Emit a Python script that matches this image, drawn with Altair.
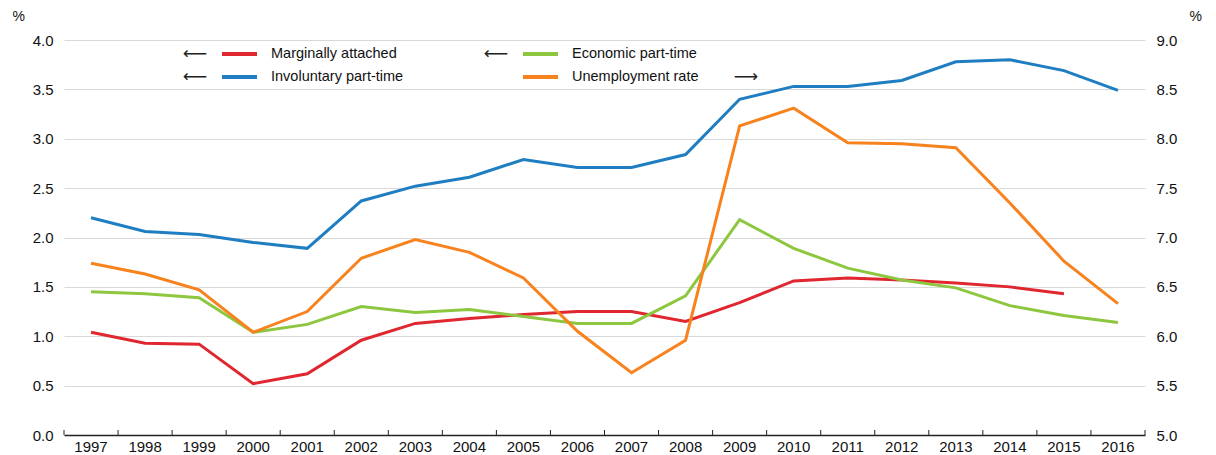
import altair as alt
import pandas as pd

# ---------------- data ----------------
years = [str(y) for y in range(1997, 2017)]
marginally_attached = [1.04, 0.93, 0.92, 0.52, 0.62, 0.96, 1.13, 1.18, 1.22, 1.25,
                       1.25, 1.15, 1.34, 1.56, 1.59, 1.57, 1.54, 1.50, 1.43, None]
involuntary_part_time = [2.20, 2.06, 2.03, 1.95, 1.89, 2.37, 2.52, 2.61, 2.79, 2.71,
                         2.71, 2.84, 3.40, 3.53, 3.53, 3.59, 3.78, 3.80, 3.69, 3.49]
economic_part_time = [1.45, 1.43, 1.39, 1.04, 1.12, 1.30, 1.24, 1.27, 1.20, 1.13,
                      1.13, 1.41, 2.18, 1.89, 1.69, 1.57, 1.49, 1.31, 1.21, 1.14]
unemployment_rate = [6.74, 6.63, 6.47, 6.04, 6.25, 6.79, 6.98, 6.85, 6.59, 6.05,
                     5.63, 5.96, 8.13, 8.31, 7.96, 7.95, 7.91, 7.35, 6.76, 6.33]

series_names = ["Marginally attached", "Involuntary part-time", "Economic part-time"]
series_colors = ["#e0262f", "#1f7ec1", "#8dc63f"]
unemp_name = "Unemployment rate"
unemp_color = "#f7821e"

left_ticks = [0, 0.5, 1, 1.5, 2, 2.5, 3, 3.5, 4]
right_ticks = [5, 5.5, 6, 6.5, 7, 7.5, 8, 8.5, 9]

rows = []
for name, vals in zip(series_names, [marginally_attached, involuntary_part_time, economic_part_time]):
    for y, v in zip(years, vals):
        if v is not None:
            rows.append({"year": y, "series": name, "value": v})
df_left = pd.DataFrame(rows)
df_right = pd.DataFrame({"year": years, "value": unemployment_rate})
df_years = pd.DataFrame({"year": years})
one = pd.DataFrame({"a": [0]})

# ---------------- layout ----------------
W, H = 1081, 395
FONT = "Liberation Sans"
TXT = "#111111"

xscale = alt.Scale(type="band", paddingInner=0, paddingOuter=0)
x_enc = alt.X("year:O", scale=xscale, bandPosition=0.5, sort=years,
              axis=alt.Axis(title=None, labelAngle=0, ticks=False, grid=False,
                            domain=True, domainColor="#222222", domainWidth=1.5,
                            labelFontSize=15, labelColor=TXT, labelPadding=4))

left_lines = alt.Chart(df_left).mark_line(strokeWidth=3).encode(
    x=x_enc,
    y=alt.Y("value:Q", scale=alt.Scale(domain=[0, 4], nice=False, zero=False),
            axis=alt.Axis(values=left_ticks, format=".1f", grid=True, gridColor="#d9d9d9",
                          gridWidth=1, ticks=False, domain=False, labelFontSize=15,
                          labelColor=TXT, labelPadding=11,
                          title="%", titleAngle=0, titleX=-52, titleY=-24,
                          titleAlign="left", titleBaseline="middle", titleFontSize=14,
                          titleFontWeight="normal", titleColor=TXT)),
    color=alt.Color("series:N", scale=alt.Scale(domain=series_names, range=series_colors),
                    legend=None),
)

right_line = alt.Chart(df_right).mark_line(strokeWidth=3, color=unemp_color).encode(
    x=alt.X("year:O", scale=xscale, bandPosition=0.5, sort=years),
    y=alt.Y("value:Q", scale=alt.Scale(domain=[5, 9], nice=False, zero=False),
            axis=alt.Axis(orient="right", values=right_ticks, format=".1f", grid=False,
                          ticks=False, domain=False, labelFontSize=15, labelColor=TXT,
                          labelPadding=11,
                          title="%", titleAngle=0, titleX=44, titleY=-24,
                          titleAlign="left", titleBaseline="middle", titleFontSize=14,
                          titleFontWeight="normal", titleColor=TXT)),
)

# upward x-axis ticks at band boundaries
tick_rules = alt.Chart(df_years).mark_rule(color="#222222", strokeWidth=1).encode(
    x=alt.X("year:O", scale=xscale, bandPosition=0, sort=years),
    y=alt.value(H - 5), y2=alt.value(H),
)
end_tick = alt.Chart(one).mark_rule(color="#222222", strokeWidth=1).encode(
    x=alt.value(W), y=alt.value(H - 5), y2=alt.value(H),
)

# ---------------- custom legend ----------------
legend_items = [
    # label, color, arrow_before, arrow_after, column x (line start), row y
    (series_names[0], series_colors[0], True, False, 158, 14),
    (series_names[1], series_colors[1], True, False, 158, 37),
    (series_names[2], series_colors[2], True, False, 459, 14),
    (unemp_name, unemp_color, False, True, 459, 37),
]
legend_layers = []
for label, color, before, after, lx, ly in legend_items:
    legend_layers.append(
        alt.Chart(one).mark_rule(color=color, strokeWidth=4).encode(
            x=alt.value(lx), x2=alt.value(lx + 35), y=alt.value(ly)))
    legend_layers.append(
        alt.Chart(one).mark_text(text=label, align="left", baseline="middle",
                                 fontSize=14.5, color=TXT, font=FONT).encode(
            x=alt.value(lx + 49), y=alt.value(ly)))
    if before:
        legend_layers.append(
            alt.Chart(one).mark_text(text="\u27f5", align="center", baseline="middle",
                                     fontSize=17, color="#222222", font="DejaVu Sans").encode(
                x=alt.value(lx - 27), y=alt.value(ly)))
    if after:
        legend_layers.append(
            alt.Chart(one).mark_text(text="\u27f6", align="center", baseline="middle",
                                     fontSize=17, color="#222222", font="DejaVu Sans").encode(
                x=alt.value(lx + 223), y=alt.value(ly)))

chart = alt.layer(left_lines, right_line, tick_rules, end_tick, *legend_layers).resolve_scale(
    y="independent"
).properties(
    width=W, height=H,
    padding={"left": 56, "top": 32, "right": 62, "bottom": 22},
    autosize=alt.AutoSizeParams(type="none"),
).configure(font=FONT).configure_view(stroke=None)

chart.save("out.html", embed_options={"renderer": "svg", "actions": False})
